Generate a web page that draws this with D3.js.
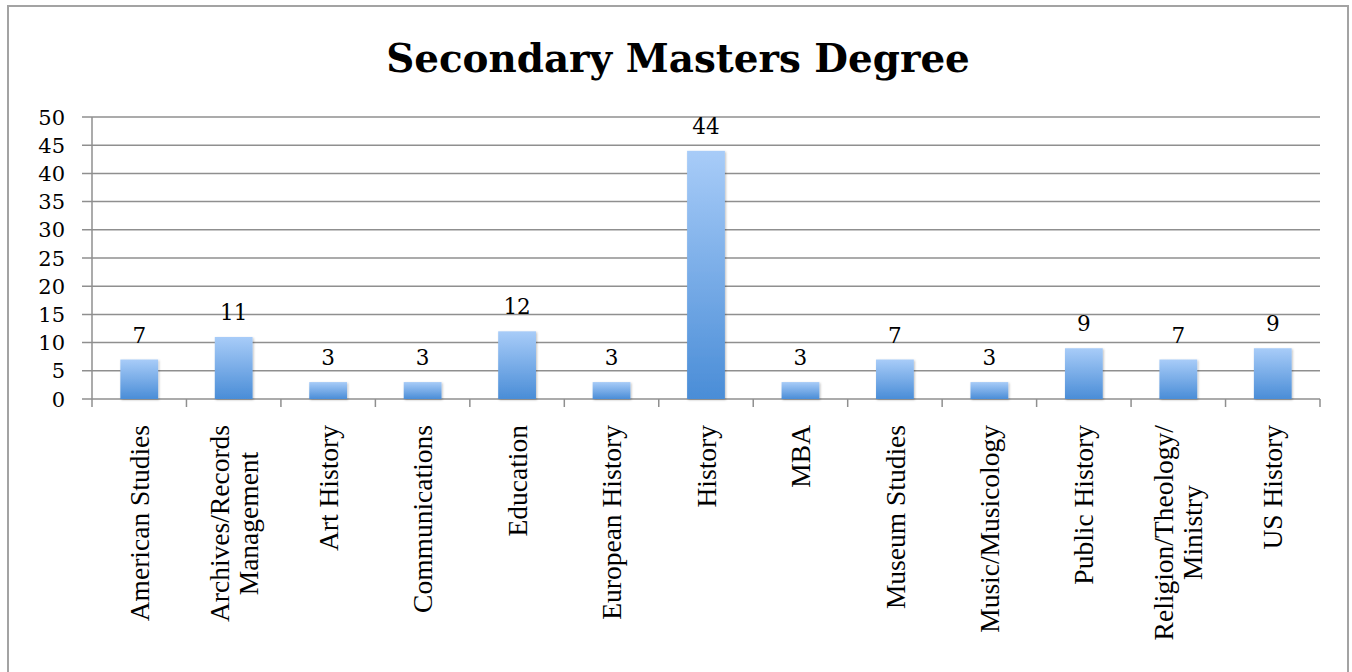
<!DOCTYPE html>
<html>
<head>
<meta charset="utf-8">
<script src="https://cdn.jsdelivr.net/npm/d3@7"></script>
<style>
  html, body { margin: 0; padding: 0; background: #fff; }
  svg { display: block; }
</style>
</head>
<body>
<svg id="chart" width="1352" height="672"></svg>
<script>
const title = "Secondary Masters Degree";
const categories = [
  "American Studies", "Archives/Records\nManagement", "Art History", "Communications",
  "Education", "European History", "History", "MBA", "Museum Studies",
  "Music/Musicology", "Public History", "Religion/Theology/\nMinistry", "US History"
];
const values = [7, 11, 3, 3, 12, 3, 44, 3, 7, 3, 9, 7, 9];
const yTicks = [0, 5, 10, 15, 20, 25, 30, 35, 40, 45, 50];

const svg = d3.select("#chart");
const plot = { left: 92, right: 1320, top: 117, bottom: 399 };

// Frame
svg.append("rect")
  .attr("x", 8).attr("y", 6).attr("width", 1340).attr("height", 720)
  .attr("fill", "#fff").attr("stroke", "#a3a3a3").attr("stroke-width", 2);

// Defs: gradient and shadow
const defs = svg.append("defs");
const grad = defs.append("linearGradient").attr("id", "barGrad")
  .attr("x1", 0).attr("y1", 0).attr("x2", 0).attr("y2", 1);
grad.append("stop").attr("offset", "0%").attr("stop-color", "#a8ccf8");
grad.append("stop").attr("offset", "100%").attr("stop-color", "#4a8dd7");
const filt = defs.append("filter").attr("id", "shadow")
  .attr("x", "-20%").attr("y", "-20%").attr("width", "140%").attr("height", "140%");
filt.append("feDropShadow").attr("dx", 1).attr("dy", 1).attr("stdDeviation", 1.2)
  .attr("flood-color", "#000").attr("flood-opacity", 0.25);

// Title
const titleText = svg.append("text")
  .attr("x", 678).attr("y", 72)
  .attr("text-anchor", "middle")
  .attr("font-family", "'DejaVu Serif', serif")
  .attr("font-weight", "bold")
  .attr("font-size", 36)
  .attr("fill", "#000")
  .text(title);
{
  const len = titleText.node().getComputedTextLength();
  titleText.attr("font-size", 36 * 584 / len);
}

// Scales
const x = d3.scaleBand().domain(categories).range([plot.left, plot.right])
  .paddingInner(0.6).paddingOuter(0.3);
const y = d3.scaleLinear().domain([0, 50]).range([plot.bottom, plot.top]);

// Gridlines
svg.append("g").selectAll("line").data(yTicks).join("line")
  .attr("x1", plot.left - 10).attr("x2", plot.right)
  .attr("y1", d => y(d)).attr("y2", d => y(d))
  .attr("stroke", "#8f8f8f").attr("stroke-width", 1.5);

// Y axis line
svg.append("line")
  .attr("x1", plot.left).attr("x2", plot.left)
  .attr("y1", y(50)).attr("y2", y(0))
  .attr("stroke", "#8f8f8f").attr("stroke-width", 1.5);

// Y tick labels
svg.append("g").selectAll("text").data(yTicks).join("text")
  .attr("x", 65).attr("y", d => y(d))
  .attr("dy", "0.36em")
  .attr("text-anchor", "end")
  .attr("font-family", "'DejaVu Serif', serif")
  .attr("font-size", 21)
  .attr("fill", "#000")
  .text(d => d);

// X axis ticks at band boundaries
const step = x.step();
const boundaries = d3.range(categories.length + 1).map(i => plot.left + i * step);
svg.append("g").selectAll("line").data(boundaries).join("line")
  .attr("x1", d => d).attr("x2", d => d)
  .attr("y1", y(0)).attr("y2", y(0) + 8)
  .attr("stroke", "#8f8f8f").attr("stroke-width", 1.5);

// Bars
svg.append("g").selectAll("rect").data(values).join("rect")
  .attr("x", (d, i) => x(categories[i]))
  .attr("y", d => y(d))
  .attr("width", x.bandwidth())
  .attr("height", d => y(0) - y(d))
  .attr("fill", "url(#barGrad)")
  .attr("filter", "url(#shadow)");

// Value labels
svg.append("g").selectAll("text").data(values).join("text")
  .attr("x", (d, i) => x(categories[i]) + x.bandwidth() / 2)
  .attr("y", d => y(d) - 17)
  .attr("text-anchor", "middle")
  .attr("font-family", "'DejaVu Serif', serif")
  .attr("font-size", 21.5)
  .attr("fill", "#000")
  .text(d => d);

// Category labels (rotated)
const catFont = 27.5;
const lineH = catFont * 1.05;
const labelTop = 425;
categories.forEach((c, i) => {
  const lines = c.split("\n");
  const cx = x(c) + x.bandwidth() / 2;
  const g = svg.append("g");
  const texts = lines.map(ln => g.append("text")
    .attr("font-family", "'Liberation Serif', 'Times New Roman', serif")
    .attr("font-size", catFont)
    .attr("fill", "#000")
    .attr("text-anchor", "middle")
    .text(ln));
  const maxLen = d3.max(texts, t => t.node().getComputedTextLength());
  const n = lines.length;
  texts.forEach((t, j) => {
    const off = (j - (n - 1) / 2) * lineH;
    t.attr("transform", `translate(${cx + off},${labelTop + maxLen / 2}) rotate(-90)`)
     .attr("dy", "0.35em");
  });
});
</script>
</body>
</html>
